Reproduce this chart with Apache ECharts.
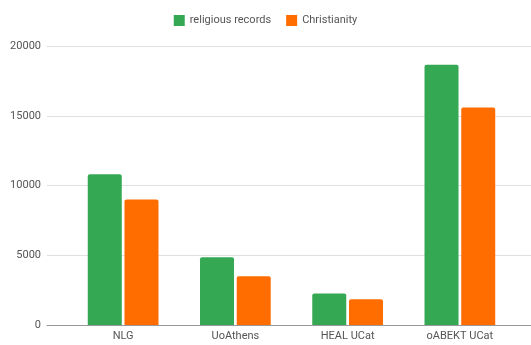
<!DOCTYPE html>
<html><head><meta charset="utf-8">
<script src="https://cdn.jsdelivr.net/npm/echarts@6/dist/echarts.min.js"></script>
<style>html,body{margin:0;padding:0;background:#fff}#c{width:531px;height:345px}</style>
</head><body><div id="c"></div>
<script>
const categories = ['NLG', 'UoAthens', 'HEAL UCat', 'oABEKT UCat'];
const religiousRecords = [10800, 4850, 2250, 18650];
const christianity = [9000, 3500, 1850, 15600];
const yTicks = [0, 5000, 10000, 15000, 20000];

const chart = echarts.init(document.getElementById('c'), null, {renderer: 'canvas'});
const font = 'Roboto, "Liberation Sans", Arial, sans-serif';
chart.setOption({
  animation: false,
  backgroundColor: '#fff',
  textStyle: {fontFamily: font},
  legend: {
    top: 10, left: 'center',
    icon: 'rect', itemWidth: 11, itemHeight: 11, itemGap: 15,
    textStyle: {fontSize: 11, color: '#555', fontFamily: font},
    data: ['religious records', 'Christianity']
  },
  grid: [
    {left: 47, right: 0, top: 46, bottom: 20},
    {left: 67, right: 15, top: 46, bottom: 20}
  ],
  xAxis: [
    {gridIndex: 0, type: 'category', data: [''], axisLine: {lineStyle: {color: '#999', width: 1}},
     axisTick: {show: false}, axisLabel: {show: false}},
    {gridIndex: 1, type: 'category', data: categories, axisLine: {show: false}, axisTick: {show: false},
     axisLabel: {fontSize: 11, color: '#555', margin: 6, fontFamily: font}}
  ],
  yAxis: [
    {gridIndex: 0, type: 'value', min: yTicks[0], max: yTicks[yTicks.length - 1], interval: 5000,
     axisLine: {show: false}, axisTick: {show: false},
     axisLabel: {fontSize: 11, color: '#555', margin: 6, fontFamily: font, formatter: v => String(v)},
     splitLine: {lineStyle: {color: '#e0e0e0', width: 1}}},
    {gridIndex: 1, type: 'value', min: yTicks[0], max: yTicks[yTicks.length - 1], interval: 5000,
     show: false, splitLine: {show: false}}
  ],
  series: [
    {name: 'religious records', type: 'bar', xAxisIndex: 1, yAxisIndex: 1, data: religiousRecords,
     barWidth: 34, barGap: '8%', itemStyle: {color: '#34A853', borderRadius: [2, 2, 0, 0]}},
    {name: 'Christianity', type: 'bar', xAxisIndex: 1, yAxisIndex: 1, data: christianity,
     barWidth: 34, itemStyle: {color: '#FF6D01', borderRadius: [2, 2, 0, 0]}}
  ]
});
</script></body></html>
